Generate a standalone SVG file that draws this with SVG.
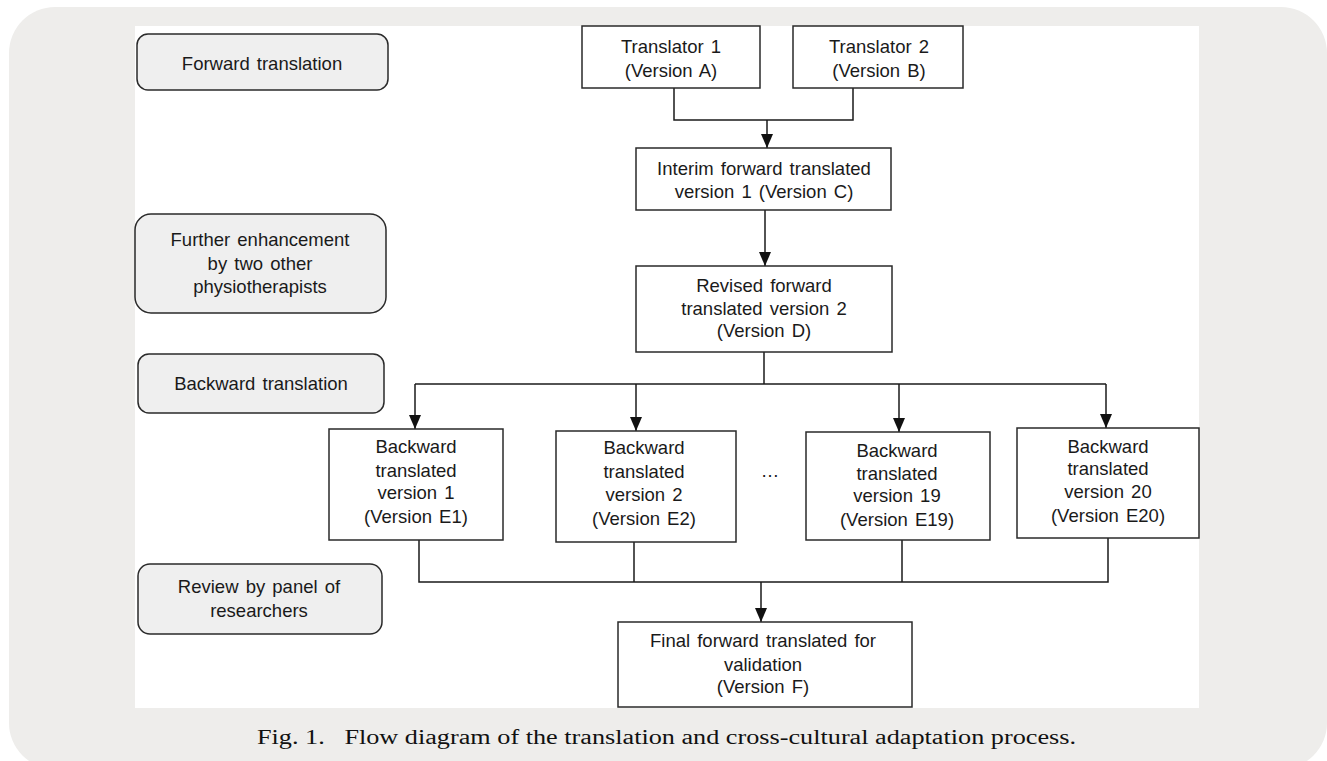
<svg xmlns="http://www.w3.org/2000/svg" width="1327" height="761" viewBox="0 0 1327 761">
<style>
.lbl{fill:#efefef;stroke:#2a2a2a;stroke-width:1.5}
.box{fill:#ffffff;stroke:#2a2a2a;stroke-width:1.5}
.t{font-family:"Liberation Sans",Arial,sans-serif;font-size:18.5px;fill:#1a1a1a;text-anchor:middle;word-spacing:2px}
.cap{font-family:"Liberation Serif","DejaVu Serif",serif;font-size:20px;fill:#111}
.c{fill:none;stroke:#1a1a1a;stroke-width:1.5}
</style>
<defs>
<marker id="ah" viewBox="0 0 14 12" refX="14" refY="6" markerWidth="14" markerHeight="12" markerUnits="userSpaceOnUse" orient="auto">
<path d="M0,0 L14,6 L0,12 Z" fill="#111"/>
</marker>
</defs>
<rect x="9" y="7" width="1318" height="762" rx="46" fill="#eeedeb"/>
<rect x="135" y="26" width="1064" height="682" fill="#ffffff"/>

<g id="connectors">
<path class="c" d="M674,88 V120 H853 V88"/>
<path class="c" d="M767,120 V148" marker-end="url(#ah)"/>
<path class="c" d="M765,210 V266" marker-end="url(#ah)"/>
<path class="c" d="M764,352 V384"/>
<path class="c" d="M415,384 H1106"/>
<path class="c" d="M415,384 V429" marker-end="url(#ah)"/>
<path class="c" d="M636,384 V431" marker-end="url(#ah)"/>
<path class="c" d="M899,384 V432" marker-end="url(#ah)"/>
<path class="c" d="M1106,384 V428" marker-end="url(#ah)"/>
<path class="c" d="M419,540 V582 H1108 V538"/>
<path class="c" d="M634,542 V582"/>
<path class="c" d="M902,540 V582"/>
<path class="c" d="M761,582 V622" marker-end="url(#ah)"/>
</g>

<g id="lbl-forward">
<rect class="lbl" x="137" y="34" width="251" height="56" rx="11"/>
<text class="t" x="262" y="70">Forward translation</text>
</g>
<g id="lbl-further">
<rect class="lbl" x="135" y="214" width="251" height="99" rx="16"/>
<text class="t" x="260" y="246">Further enhancement</text>
<text class="t" x="260" y="270">by two other</text>
<text class="t" x="260" y="293">physiotherapists</text>
</g>
<g id="lbl-backward">
<rect class="lbl" x="138" y="354" width="246" height="59" rx="11"/>
<text class="t" x="261" y="390">Backward translation</text>
</g>
<g id="lbl-review">
<rect class="lbl" x="138" y="564" width="244" height="70" rx="12"/>
<text class="t" x="259" y="593">Review by panel of</text>
<text class="t" x="259" y="617">researchers</text>
</g>

<g id="n-t1">
<rect class="box" x="582" y="26" width="178" height="62"/>
<text class="t" x="671" y="53">Translator 1</text>
<text class="t" x="671" y="77">(Version A)</text>
</g>
<g id="n-t2">
<rect class="box" x="793" y="26" width="170" height="62"/>
<text class="t" x="879" y="53">Translator 2</text>
<text class="t" x="879" y="77">(Version B)</text>
</g>
<g id="n-c">
<rect class="box" x="636" y="148" width="255" height="62"/>
<text class="t" x="764" y="175">Interim forward translated</text>
<text class="t" x="764" y="198">version 1 (Version C)</text>
</g>
<g id="n-d">
<rect class="box" x="636" y="266" width="256" height="86"/>
<text class="t" x="764" y="292">Revised forward</text>
<text class="t" x="764" y="315">translated version 2</text>
<text class="t" x="764" y="337">(Version D)</text>
</g>
<g id="n-e1">
<rect class="box" x="329" y="429" width="174" height="111"/>
<text class="t" x="416" y="453">Backward</text>
<text class="t" x="416" y="477">translated</text>
<text class="t" x="416" y="499">version 1</text>
<text class="t" x="416" y="523">(Version E1)</text>
</g>
<g id="n-e2">
<rect class="box" x="556" y="431" width="180" height="111"/>
<text class="t" x="644" y="454">Backward</text>
<text class="t" x="644" y="478">translated</text>
<text class="t" x="644" y="501">version 2</text>
<text class="t" x="644" y="525">(Version E2)</text>
</g>
<text class="t" x="770" y="477">…</text>
<g id="n-e19">
<rect class="box" x="806" y="432" width="184" height="108"/>
<text class="t" x="897" y="457">Backward</text>
<text class="t" x="897" y="480">translated</text>
<text class="t" x="897" y="502">version 19</text>
<text class="t" x="897" y="526">(Version E19)</text>
</g>
<g id="n-e20">
<rect class="box" x="1017" y="428" width="182" height="110"/>
<text class="t" x="1108" y="453">Backward</text>
<text class="t" x="1108" y="475">translated</text>
<text class="t" x="1108" y="498">version 20</text>
<text class="t" x="1108" y="522">(Version E20)</text>
</g>
<g id="n-f">
<rect class="box" x="618" y="622" width="294" height="85"/>
<text class="t" x="763" y="647">Final forward translated for</text>
<text class="t" x="763" y="671">validation</text>
<text class="t" x="763" y="693">(Version F)</text>
</g>

<text class="cap" x="257" y="744" textLength="819" lengthAdjust="spacingAndGlyphs" xml:space="preserve">Fig. 1.   Flow diagram of the translation and cross-cultural adaptation process.</text>
</svg>
